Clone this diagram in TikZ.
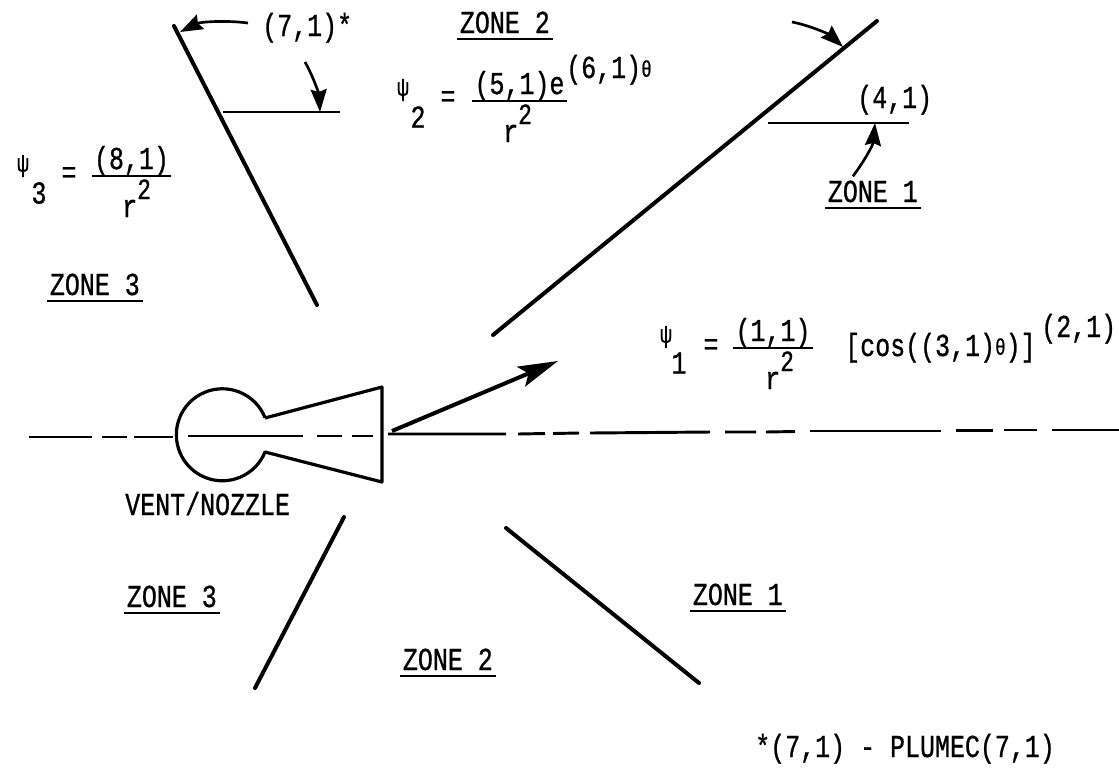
\documentclass[tikz,border=0pt]{standalone}
\usepackage{fontspec}
\setmainfont[FakeStretch=0.78,FakeBold=0.8]{Liberation Mono}
\usetikzlibrary{arrows.meta}

\newcommand{\rsq}{r\raisebox{13.5pt}{\fontsize{22}{22}\selectfont 2}}
\newcommand{\thsm}{{\fontsize{17}{17}\selectfont\raisebox{1pt}{θ}}}

\begin{document}
\begin{tikzpicture}[
  x=0.75pt, y=-0.75pt,
  lbl/.style      = {anchor=base west, inner sep=0pt, font=\fontsize{24}{26}\selectfont},
  psi/.style      = {anchor=center, inner sep=0pt, font=\fontsize{19}{19}\selectfont},
  idx/.style      = {anchor=center, inner sep=0pt, font=\fontsize{24}{26}\selectfont},
  zone/.style     = {lbl, inner xsep=2pt, text depth=4pt,
                     append after command={(\tikzlastnode.south west) edge[rulestroke] (\tikzlastnode.south east)}},
  frac/.style     = {anchor=south, inner sep=0pt, font=\fontsize{24}{26}\selectfont,
                     append after command={(\tikzlastnode.south west) edge[rulestroke] (\tikzlastnode.south east)}},
  rulestroke/.style = {draw, line width=1.5pt},
  boundary/.style = {line width=3pt, line cap=round},
  datum/.style    = {line width=1.7pt},
  axis/.style     = {line width=2.2pt},
  vessel/.style   = {line width=2.4pt, line join=round},
  angle/.style    = {line width=2pt, -{Stealth[length=17pt,width=12pt,inset=2pt]}},
  flow/.style     = {line width=3pt, -{Stealth[length=30pt,width=16pt,inset=6pt]}},
]
  \useasboundingbox (0,0) rectangle (1119,768);

  % zone boundaries
  \coordinate (up3a) at (174,26);   \coordinate (up3b) at (317,305);
  \coordinate (up1a) at (877,21);   \coordinate (up1b) at (493,335);
  \coordinate (lo3a) at (344,517);  \coordinate (lo3b) at (255,688);
  \coordinate (lo1a) at (506,528);  \coordinate (lo1b) at (699,683);
  \draw[boundary] (up3a) -- (up3b);
  \draw[boundary] (up1a) -- (up1b);
  \draw[boundary] (lo3a) -- (lo3b);
  \draw[boundary] (lo1a) -- (lo1b);

  % angle datums
  \coordinate (dat3a) at (223,112);  \coordinate (dat3b) at (340,112);
  \coordinate (dat1a) at (768,123);  \coordinate (dat1b) at (909,123);
  \draw[datum] (dat3a) -- (dat3b);
  \draw[datum] (dat1a) -- (dat1b);

  % vent and nozzle
  \coordinate (neckup) at (265,418);
  \coordinate (mouthup) at (382,387);
  \coordinate (mouthlo) at (382,482);
  \coordinate (necklo) at (265,452);
  \draw[vessel] (neckup) -- (mouthup) -- (mouthlo) -- (necklo)
    arc[start angle=-22,end angle=-338,radius=34.5pt];

  % centre line, broken by hand
  \draw[axis] (29,437) -- (92,437) (102,437) -- (127,437) (134,437) -- (173,437);
  \draw[axis] (188,436) -- (303,436) (317,436) -- (342,436) (352,436) -- (373,436);
  \draw[axis] (388,434) -- (506,434) (518,434) -- (545,433.5) (553,433.5) -- (579,433);
  \draw[axis] (590,433) -- (710,432) (725,432) -- (756,432) (766,432) -- (795,431.5);
  \draw[axis] (810,431) -- (941,431) (956,430.5) -- (993,430.5) (1004,430) -- (1037,430);
  \draw[axis] (1052,430) -- (1119,430);

  \coordinate (flowa) at (392,431);  \coordinate (flowb) at (558,361);
  \draw[flow] (flowa) -- (flowb);

  % texts
  \node[zone] (z2top) at (457,33) {ZONE 2};
  \node[zone] (z3top) at (47,295) {ZONE 3};
  \node[zone] (z1top) at (825,202) {ZONE 1};
  \node[zone] (z3low) at (124,607) {ZONE 3};
  \node[zone] (z1low) at (690,605) {ZONE 1};
  \node[zone] (z2low) at (400,670) {ZONE 2};
  \node[lbl] (sevenstar) at (262,36) {(7,1)*};
  \node[lbl] (four) at (857,108) {(4,1)};
  \node[lbl] (vent) at (125,515) {VENT/NOZZLE};
  \node[lbl] (note) at (755,757) {*(7,1) - PLUMEC(7,1)};

  % psi 3
  \node[psi] (psi3) at (23,166) {ψ};
  \node[idx] (psi3i) at (39,193) {3};
  \node[idx] (psi3e) at (69,175) {=};
  \node[frac,minimum width=59pt] (num3) at (131.5,176) {(8,1)};
  \node[lbl] (den3) at (122,217) {\rsq};

  % psi 2
  \node[psi] (psi2) at (403,90) {ψ};
  \node[idx] (psi2i) at (418,117) {2};
  \node[idx] (psi2e) at (448,99) {=};
  \node[frac,minimum width=71pt] (num2) at (519.5,101) {(5,1)e};
  \node[lbl] (exp2) at (566,78) {(6,1)\thsm};
  \node[lbl] (den2) at (503,142) {\rsq};

  % psi 1
  \node[psi] (psi1) at (666,337) {ψ};
  \node[idx] (psi1i) at (679,363) {1};
  \node[idx] (psi1e) at (711,347) {=};
  \node[frac,minimum width=60pt] (num1) at (773,348) {(1,1)};
  \node[lbl] (den1) at (765,389) {\rsq};
  \node[lbl] (cos1) at (845,356) {[cos((3,1)\thsm)]};
  \node[lbl] (exp1) at (1041,337) {(2,1)};

  % angle arrows
  \coordinate (tail3a) at (248,23);
  \coordinate (tip3a) at (180,32);
  \coordinate (tail3b) at (305,62);
  \coordinate (tip3b) at (320,112);
  \coordinate (tail1a) at (792,22);
  \coordinate (tip1a) at (843,47);
  \coordinate (tip1b) at (875,123);
  \draw[angle] (tail3a) .. controls (225,20) and (200,22) .. (tip3a);
  \draw[angle] (tail3b) .. controls (314,78) and (319,95) .. (tip3b);
  \draw[angle] (tail1a) .. controls (812,26) and (830,35) .. (tip1a);
  \draw[angle] (z1top.north) ++(-20,-4) .. controls (865,160) and (873,145) .. (tip1b);
\end{tikzpicture}
\end{document}
